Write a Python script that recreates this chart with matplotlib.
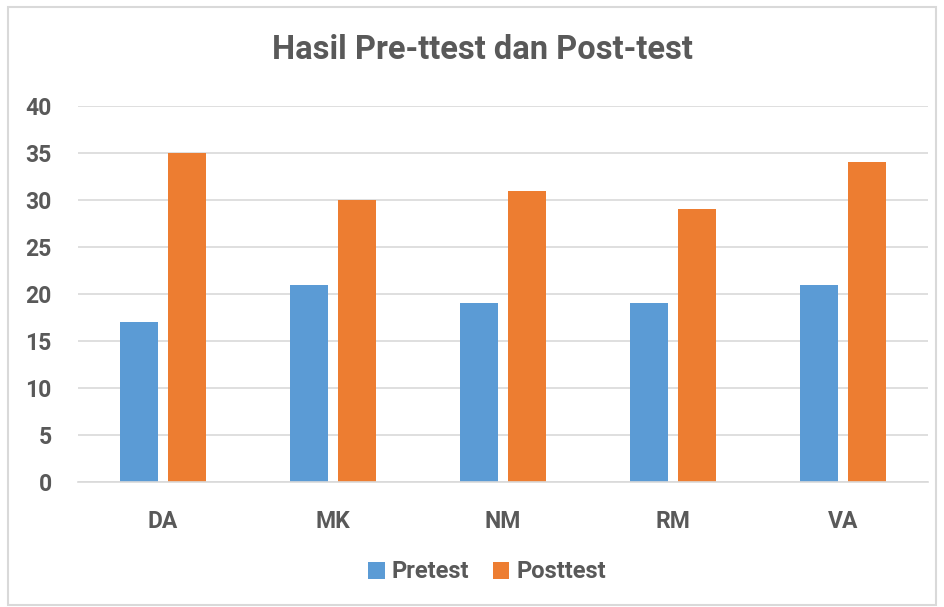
import matplotlib
matplotlib.use('Agg')
import matplotlib.pyplot as plt
from matplotlib.patches import Rectangle
import numpy as np

categories = ['DA', 'MK', 'NM', 'RM', 'VA']
pretest = [17, 21, 19, 19, 21]
posttest = [35, 30, 31, 29, 34]
series_names = ['Pretest', 'Posttest']

blue = '#5B9BD5'
orange = '#ED7D31'
text_col = '#595959'

plt.rcParams['font.family'] = ['Roboto', 'DejaVu Sans']

fig = plt.figure(figsize=(9.44, 6.07), dpi=100)
fig.patches.append(Rectangle((8/944, 1 - 605/607), 928/944, 598/607, transform=fig.transFigure,
                             fill=False, edgecolor='#D9D9D9', linewidth=1.5))

ax = fig.add_axes([78/944, 1 - 482/607, 850/944, 376/607])

x = np.arange(len(categories))
w = 0.224
gap = 0.059
ax.bar(x - (w + gap)/2, pretest, w, color=blue, label=series_names[0])
ax.bar(x + (w + gap)/2, posttest, w, color=orange, label=series_names[1])

ax.set_xlim(-0.5, len(categories) - 0.5)
ax.set_ylim(0, 40)
ax.set_yticks(range(0, 41, 5))
ax.yaxis.grid(True, color='#D9D9D9', linewidth=1.2)
ax.set_axisbelow(True)
for s in ['top', 'right', 'left']:
    ax.spines[s].set_visible(False)
ax.spines['bottom'].set_color('#D9D9D9')
ax.spines['bottom'].set_linewidth(1.2)
ax.tick_params(axis='both', length=0, labelsize=16.5, labelcolor=text_col)
ax.tick_params(axis='y', pad=19)
ax.tick_params(axis='x', pad=20)
ax.set_xticks(x)
ax.set_xticklabels(categories, fontweight='bold')
for lbl in ax.get_yticklabels():
    lbl.set_fontweight('bold')

fig.text(482/944, 1 - 50/607, 'Hasil Pre-ttest dan Post-test', ha='center', va='center',
         fontsize=23.5, fontweight='bold', color=text_col)

leg = fig.legend(loc='center', bbox_to_anchor=(487/944, 1 - 572/607), ncol=2, frameon=False,
                 fontsize=17, handlelength=0.7, handleheight=0.7, columnspacing=1.0, handletextpad=0.3)
for t in leg.get_texts():
    t.set_color(text_col)
    t.set_fontweight('bold')

fig.savefig('out.png', dpi=100)
